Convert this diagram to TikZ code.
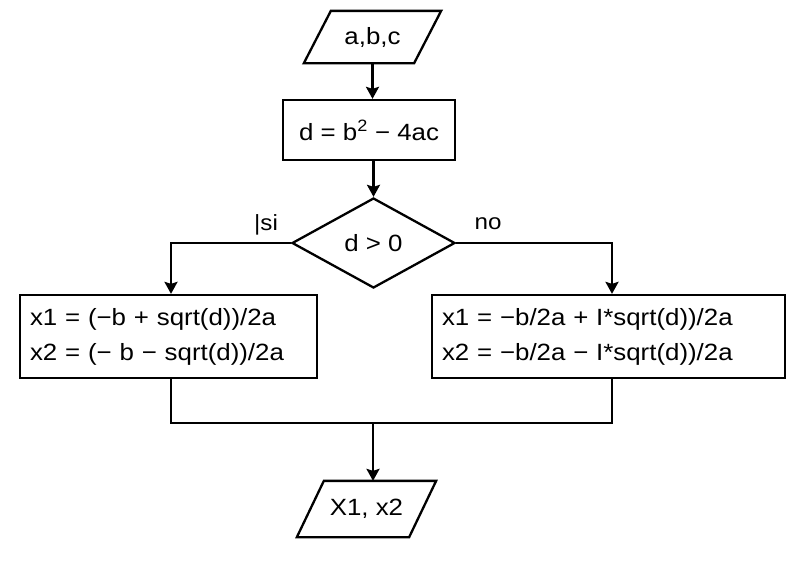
\documentclass[tikz,border=0pt]{standalone}
\usepackage{fontspec}
\setmainfont{Liberation Sans}[FakeStretch=1.1]
\usetikzlibrary{shapes.geometric,arrows.meta,calc}
\begin{document}
\begin{tikzpicture}[x=1pt,y=-1pt, line width=2.3pt,
  every node/.style={font=\fontsize{23.5}{35}\selectfont},
  box/.style={draw, rectangle, inner sep=0pt},
  io/.style={inner sep=0pt},
  decision/.style={draw, diamond, aspect=1.811, minimum width=163pt, minimum height=90pt, inner sep=0pt},
  conn/.style={-{Stealth[length=12pt,width=13pt,inset=2pt]}},
  lbl/.style={inner sep=0pt, font=\fontsize{22}{24}\selectfont}]
\useasboundingbox (0,0) rectangle (800,565);
% input
\node[io, minimum width=108pt, minimum height=50pt] (in) at (372.5,37) {a,b,c};
\draw ($(in.south west)+(-13.5,0)$) -- ($(in.north west)+(13.5,0)$) -- ($(in.north east)+(13.5,0)$) -- ($(in.south east)+(-13.5,0)$) -- cycle;
% compute
\node[box, minimum width=172pt, minimum height=60pt] (calc) at (369,130) {d = b\textsuperscript{2} − 4ac};
% decision
\node[decision] (d) at (373.5,243) {d > 0};
% branches
\node[box, minimum width=297pt, minimum height=83pt, text width=277pt, inner xsep=10pt, align=left] (L) at (168.5,336.5) {x1 = (−b + sqrt(d))/2a\\x2 = (− b − sqrt(d))/2a};
\node[box, minimum width=353pt, minimum height=83pt, text width=333pt, inner xsep=10pt, align=left] (R) at (608.5,336.5) {x1 = −b/2a + I*sqrt(d))/2a\\x2 = −b/2a − I*sqrt(d))/2a};
% output
\node[io, minimum width=110pt, minimum height=54pt] (out) at (366.5,509) {X1, x2};
\draw ($(out.south west)+(-13.5,0)$) -- ($(out.north west)+(13.5,0)$) -- ($(out.north east)+(13.5,0)$) -- ($(out.south east)+(-13.5,0)$) -- cycle;
% labels
\node[lbl] (si) at (266,225) {|si};
\node[lbl] (no) at (488,224) {no};
% connectors
\draw[conn] (in.south) -- (in.south |- calc.north);
\draw[conn] (d.north |- calc.south) -- (d.north);
\coordinate (lt) at ($(L.north)+(2.5,0)$);
\coordinate (rt) at ($(R.north)+(3.5,0)$);
\draw[conn] (d.west) -| (lt);
\draw[conn] (d.east) -| (rt);
\coordinate (m) at (373,423);
\draw ($(L.south)+(2.5,0)$) |- (m) -| ($(R.south)+(3.5,0)$);
\draw[conn] (m) -- (m |- out.north);
\end{tikzpicture}
\end{document}
